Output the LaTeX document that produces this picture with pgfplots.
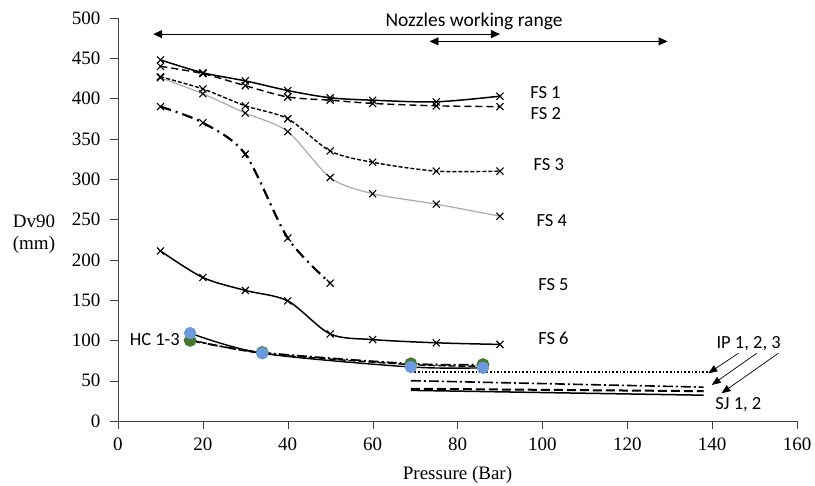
\documentclass[border=0pt]{standalone}
\usepackage{fontspec}
\setmainfont{Liberation Serif}
\newfontfamily\calfont{Carlito}
\usepackage{pgfplots}
\pgfplotsset{compat=1.18}
\usetikzlibrary{arrows.meta}
\definecolor{hcblue}{RGB}{108,152,222}
\definecolor{hcgreen}{RGB}{70,120,45}
\definecolor{fsgray}{RGB}{170,170,170}
\begin{document}
\begin{tikzpicture}
\path[use as bounding box] (0,0) rectangle (815pt,486pt);
\begin{axis}[at={(118pt,65pt)}, anchor=south west, scale only axis,
  width=679pt, height=403pt,
  xmin=0, xmax=160, ymin=0, ymax=500,
  xtick={0,20,...,160}, ytick={0,50,...,500},
  axis lines=left, axis line style={-, black!75},
  tick align=outside, major tick length=8pt, tick style={black!75},
  tick label style={font=\fontsize{19}{22}\selectfont},
  yticklabel style={xshift=-6pt},
  xticklabel style={yshift=-5pt},
  /pgf/number format/assume math mode=true,
  xlabel={Pressure (Bar)}, xlabel style={font=\fontsize{19}{22}\selectfont, yshift=-9pt},
  clip=false,
  every axis plot/.append style={black},
  mark options={solid}]
% FS series
\addplot[smooth, line width=1.5pt, mark=x, mark size=5pt, mark options={line width=1.1pt}] coordinates {(10,448)(20,432)(30,422)(40,410)(50,401)(60,398)(75,396)(90,403)};
\addplot[smooth, line width=1.4pt, dash pattern=on 7pt off 4pt, mark=x, mark size=5pt, mark options={line width=1.1pt,solid}] coordinates {(10,440)(20,431)(30,416)(40,402)(50,398)(60,394)(75,391)(90,390)};
\addplot[smooth, line width=1.4pt, dash pattern=on 4pt off 2pt, mark=x, mark size=5pt, mark options={line width=1.1pt,solid}] coordinates {(10,427)(20,412)(30,391)(40,375)(50,335)(60,321)(75,310)(90,310)};
\addplot[smooth, line width=1.2pt, fsgray, mark=x, mark size=5pt, mark options={line width=1.1pt,black}] coordinates {(10,426)(20,406)(30,382)(40,359)(50,302)(60,282)(75,269)(90,254)};
\addplot[smooth, line width=2.2pt, dash pattern=on 11pt off 5pt on 2pt off 5pt, mark=x, mark size=5pt, mark options={line width=1.1pt,solid}] coordinates {(10,390)(20,370)(30,331)(40,227)(50,171)};
\addplot[smooth, line width=1.5pt, mark=x, mark size=5pt, mark options={line width=1.1pt}] coordinates {(10,211)(20,178)(30,162)(40,149)(50,108)(60,101)(75,97)(90,95)};
% HC series
\addplot[smooth, line width=1.4pt, dash pattern=on 7pt off 3pt] coordinates {(17,101)(34,84)(69,70)(86,68)};
\addplot[smooth, line width=1.8pt, dash pattern=on 10pt off 3pt on 2pt off 3pt, mark=*, mark size=5.5pt, mark options={hcgreen, draw=none, solid}] coordinates {(17,100)(34,85)(69,71)(86,70)};
\addplot[smooth, line width=1.4pt, mark=*, mark size=5.5pt, mark options={hcblue, draw=none}] coordinates {(17,109)(34,84)(69,67)(86,66)};
% IP / SJ series
\addplot[line width=1.6pt, dotted] coordinates {(69,61)(139,61)};
\addplot[line width=1.6pt, dash pattern=on 10pt off 3pt on 2pt off 3pt] coordinates {(69,50)(138,42)};
\addplot[line width=2pt, dash pattern=on 9pt off 4pt] coordinates {(69,40)(138,37)};
\addplot[line width=1.5pt] coordinates {(69,38)(138,32)};
% annotations
\draw[line width=0.9pt, {Triangle[length=9pt,width=8pt]}-{Triangle[length=9pt,width=8pt]}] (axis cs:8.3,480) -- (axis cs:90,480);
\draw[line width=0.9pt, {Triangle[length=9pt,width=8pt]}-{Triangle[length=9pt,width=8pt]}] (axis cs:73.4,471) -- (axis cs:129.5,471);
\node[font=\calfont\fontsize{19.5}{22}\selectfont] at (axis cs:83.9,496) {Nozzles working range};
\begin{scope}[every node/.style={font=\calfont\fontsize{18.5}{22}\selectfont, anchor=west, inner sep=0pt}]
\node at (axis cs:97.1,407.6) {FS 1};
\node at (axis cs:97.2,381.7) {FS 2};
\node at (axis cs:97.9,317.6) {FS 3};
\node at (axis cs:98.6,248.5) {FS 4};
\node at (axis cs:99,168.7) {FS 5};
\node at (axis cs:99,102.6) {FS 6};
\node at (axis cs:141,96.4) {IP 1, 2, 3};
\node at (axis cs:140.7,19.9) {SJ 1, 2};
\node[anchor=east] at (axis cs:14.6,100.5) {HC 1-3};
\end{scope}
\draw[line width=0.7pt, -{Triangle[length=9pt,width=7pt]}] (axis cs:146.2,84) -- (axis cs:139.1,59.2);
\draw[line width=0.7pt, -{Triangle[length=9pt,width=7pt]}] (axis cs:150.5,84) -- (axis cs:139.9,44.7);
\draw[line width=0.7pt, -{Triangle[length=9pt,width=7pt]}] (axis cs:155.6,84) -- (axis cs:142.2,34.4);
\node[font=\fontsize{19}{22}\selectfont, align=center] at (axis cs:-19.8,232) {Dv90\\(mm)};
\end{axis}
\end{tikzpicture}
\end{document}
